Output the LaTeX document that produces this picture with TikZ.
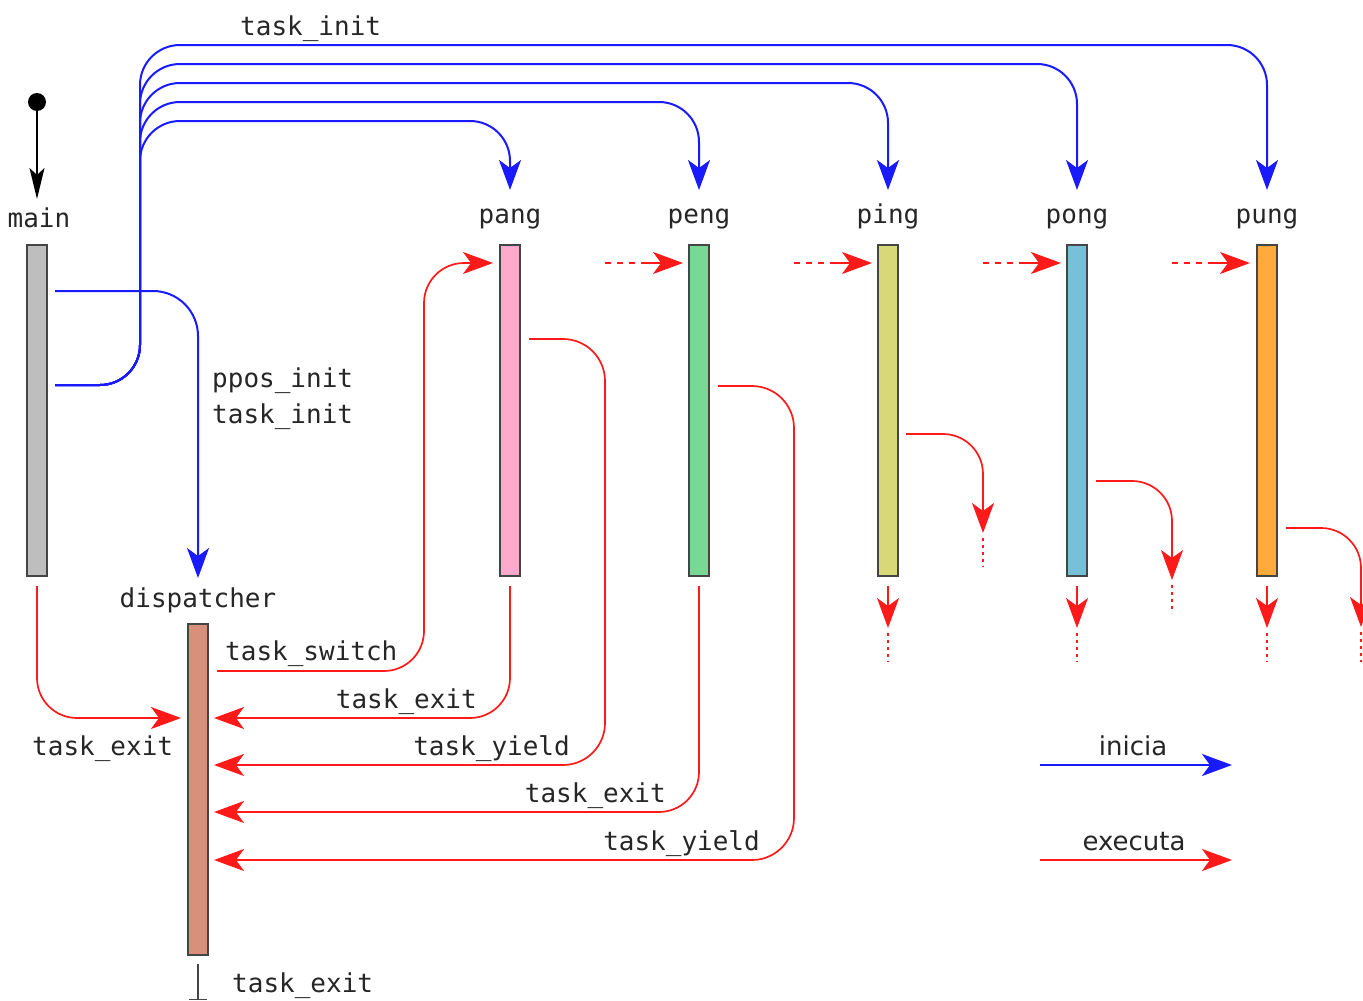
\documentclass[tikz,border=0pt]{standalone}
\usepackage{fontspec}
\setmonofont{DejaVu Sans Mono}
\setsansfont{DejaVu Sans}
\usetikzlibrary{arrows.meta}
\definecolor{barline}{HTML}{454545}
\definecolor{txt}{HTML}{262626}
\definecolor{inblue}{HTML}{1a1aff}
\definecolor{exred}{HTML}{ff1a1a}
\definecolor{cmain}{HTML}{BEBEBE}
\definecolor{cpang}{HTML}{FFAACC}
\definecolor{cpeng}{HTML}{78D894}
\definecolor{cping}{HTML}{D8D878}
\definecolor{cpong}{HTML}{78C0D8}
\definecolor{cpung}{HTML}{FFAA3C}
\definecolor{cdisp}{HTML}{D8907A}
\tikzset{
  bar/.style={draw=barline, line width=1.4pt, minimum width=20pt, minimum height=331pt, inner sep=0pt},
  lbl/.style={font=\ttfamily\fontsize{26}{30}\selectfont, text=txt, inner sep=0pt},
  slbl/.style={font=\sffamily\fontsize{26}{30}\selectfont, text=txt, inner sep=0pt},
  bigtip/.tip={Stealth[length=30pt,width=22pt,inset=8pt]},
  blueline/.style={draw=inblue, line width=2pt, -bigtip, line join=round},
  redline/.style={draw=exred, line width=1.7pt, -bigtip, line join=round},
  reddash/.style={draw=exred, line width=1.7pt, dash pattern=on 6pt off 6pt},
  reddot/.style={draw=exred, line width=1.7pt, dash pattern=on 3pt off 4pt},
}
\begin{document}
\begin{tikzpicture}[x=1pt,y=-1pt]
\path[use as bounding box] (0,0) rectangle (1363,1001);

% bars
\node[bar, fill=cmain] (main) at (37,410.5) {};
\node[bar, fill=cpang] (pang) at (510,410.5) {};
\node[bar, fill=cpeng] (peng) at (699,410.5) {};
\node[bar, fill=cping] (ping) at (888,410.5) {};
\node[bar, fill=cpong] (pong) at (1077,410.5) {};
\node[bar, fill=cpung] (pung) at (1267,410.5) {};
\node[bar, fill=cdisp] (disp) at (198,789.5) {};

% labels
\node[lbl, anchor=base] (lmain) at (39,227) {main};
\node[lbl, anchor=base] (lpang) at (510,223) {pang};
\node[lbl, anchor=base] (lpeng) at (699,223) {peng};
\node[lbl, anchor=base] (lping) at (888,223) {ping};
\node[lbl, anchor=base] (lpong) at (1077,223) {pong};
\node[lbl, anchor=base] (lpung) at (1267,223) {pung};
\node[lbl, anchor=base] (ldisp) at (198,607) {dispatcher};

% start
\node[circle, fill=black, inner sep=0pt, minimum size=18pt] (start) at (37,102) {};
\coordinate (mainIn) at (37,199);
\draw[line width=1.8pt, -{Stealth[length=31pt,width=15pt,inset=7pt]}] (start) -- (mainIn);

% blue task_init fan
\coordinate (mA) at (55,385);
\coordinate (mB) at (55,291);
\coordinate (pangIn) at (510,190);
\coordinate (pengIn) at (699,190);
\coordinate (pingIn) at (888,190);
\coordinate (pongIn) at (1077,190);
\coordinate (pungIn) at (1267,190);
\foreach \t/\y in {pangIn/121, pengIn/102, pingIn/83, pongIn/64, pungIn/45}
  \draw[blueline, rounded corners=40pt] (mA) -| (140,\y) -| (\t);
\node[lbl, anchor=base west] (ltinit) at (240,35) {task\_init};

% ppos_init
\coordinate (dispIn) at (198,578);
\draw[blueline, rounded corners=45pt] (mB) -| (dispIn);
\node[lbl, anchor=base west] (lppos) at (212,387) {ppos\_init};
\node[lbl, anchor=base west] (ltinit2) at (212,423) {task\_init};

% red: main exit
\coordinate (mainOut) at (37,586);
\coordinate (dA) at (181,718);
\draw[redline, rounded corners=40pt] (mainOut) |- (dA);
\node[lbl, anchor=base west] (lex0) at (32,755) {task\_exit};

% task_switch
\coordinate (dOut) at (217,671);
\coordinate (pangRun) at (493,263);
\draw[redline, rounded corners=40pt] (dOut) -| (424,263) -- (pangRun);
\node[lbl, anchor=base west] (lsw) at (225,660) {task\_switch};

% returns to dispatcher
\coordinate (dB) at (214,718);
\coordinate (dC) at (214,765);
\coordinate (dD) at (214,812);
\coordinate (dE) at (214,860);
\coordinate (pangOut) at (510,586);
\coordinate (pangY) at (529,339);
\coordinate (pengOut) at (699,586);
\coordinate (pengY) at (718,386);
\draw[redline, rounded corners=40pt] (pangOut) |- (dB);
\draw[redline, rounded corners=42pt] (pangY) -| (605,765) -- (dC);
\draw[redline, rounded corners=40pt] (pengOut) |- (dD);
\draw[redline, rounded corners=42pt] (pengY) -| (794,860) -- (dE);
\node[lbl, anchor=base east] (lex1) at (477,708) {task\_exit};
\node[lbl, anchor=base east] (ly1) at (570,755) {task\_yield};
\node[lbl, anchor=base east] (lex2) at (666,802) {task\_exit};
\node[lbl, anchor=base east] (ly2) at (760,850) {task\_yield};

% dashed hand-over arrows
\foreach \sx/\nm in {605/pengRun, 794/pingRun, 983/pongRun, 1172/pungRun}{
  \coordinate (\nm) at (\sx+78,263);
  \draw[reddash] (\sx,263) -- (\sx+42,263);
  \draw[redline] (\sx+36,263) -- (\nm);
}

% side yields of ping, pong, pung
\coordinate (pingY) at (906,434);
\coordinate (pongY) at (1096,481);
\coordinate (pungY) at (1286,528);
\coordinate (pingYe) at (983,533);
\coordinate (pongYe) at (1172,580);
\coordinate (pungYe) at (1361,627);
\draw[redline, rounded corners=40pt] (pingY) -| (pingYe);
\draw[redline, rounded corners=40pt] (pongY) -| (pongYe);
\draw[redline, rounded corners=40pt] (pungY) -| (pungYe);
\draw[reddot] (983,538) -- (983,567);
\draw[reddot] (1172,585) -- (1172,613);
\draw[reddot] (1361,632) -- (1361,662);

% downward exits of ping, pong, pung
\foreach \x/\nm in {888/pingX, 1077/pongX, 1267/pungX}{
  \coordinate (\nm) at (\x,628);
  \draw[redline] (\x,586) -- (\nm);
  \draw[reddot] (\x,633) -- (\x,662);
}

% dispatcher exit
\coordinate (dOutB) at (198,964);
\coordinate (dEnd) at (198,1000);
\draw[line width=1.5pt, draw=barline] (dOutB) -- (dEnd);
\draw[line width=1.5pt, draw=barline] (189,999.5) -- (207,999.5);
\node[lbl, anchor=base west] (lexd) at (232,992) {task\_exit};

% legend
\coordinate (lgA) at (1040,765);
\coordinate (lgB) at (1232,765);
\coordinate (lgC) at (1040,860);
\coordinate (lgD) at (1232,860);
\draw[blueline, line width=2.4pt] (lgA) -- (lgB);
\draw[redline, line width=2.4pt] (lgC) -- (lgD);
\node[slbl, anchor=base] (linicia) at (1133,755) {inicia};
\node[slbl, anchor=base] (lexec) at (1134,850) {executa};
\end{tikzpicture}
\end{document}
